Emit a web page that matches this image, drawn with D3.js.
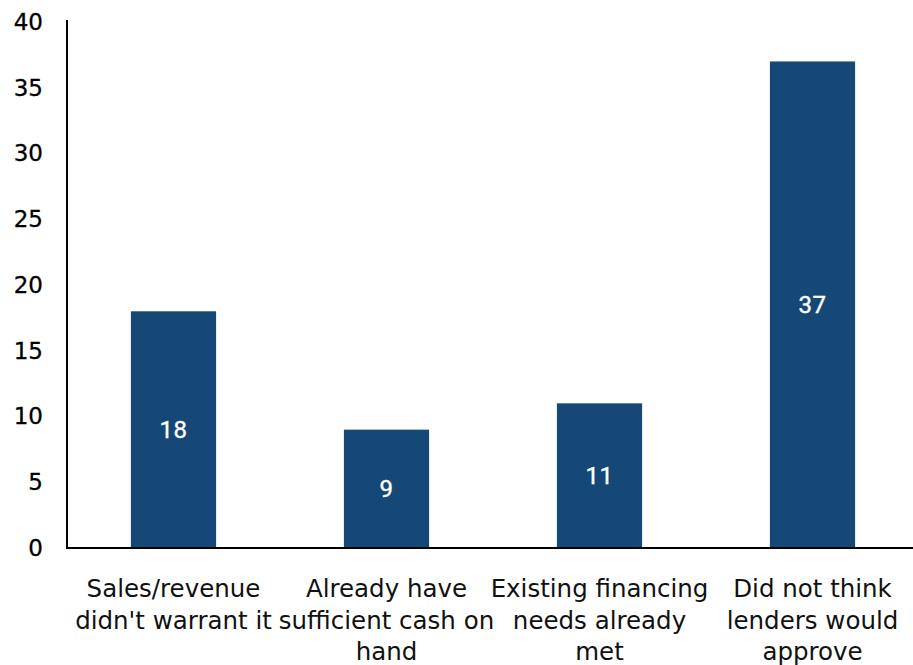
<!DOCTYPE html>
<html>
<head>
<meta charset="utf-8">
<script src="https://cdn.jsdelivr.net/npm/d3@7"></script>
<style>
  html, body { margin: 0; padding: 0; background: #fff; }
  svg { display: block; }
</style>
</head>
<body>
<svg id="chart" width="913" height="665"></svg>
<script>
// Reasons for not applying for financing (share of respondents)
const categories = [
  ["Sales/revenue", "didn't warrant it"],
  ["Already have", "sufficient cash on", "hand"],
  ["Existing financing", "needs already", "met"],
  ["Did not think", "lenders would", "approve"]
];
const values = [18, 9, 11, 37];
const yTicks = [0, 5, 10, 15, 20, 25, 30, 35, 40];

const width = 913, height = 665;
const margin = { top: 22, right: -6, bottom: 117, left: 67 };

const svg = d3.select("#chart");

const x = d3.scaleBand()
  .domain(d3.range(categories.length))
  .range([margin.left, width - margin.right])
  .paddingInner(0.6)
  .paddingOuter(0.3);

const y = d3.scaleLinear()
  .domain([0, 40])
  .range([height - margin.bottom, margin.top]);

// Bars
svg.append("g")
  .selectAll("rect")
  .data(values)
  .join("rect")
  .attr("x", (d, i) => x(i))
  .attr("y", d => y(d))
  .attr("width", x.bandwidth())
  .attr("height", d => y(0) - y(d))
  .attr("fill", "#154876");

// Value labels centred in each bar
svg.append("g")
  .selectAll("text")
  .data(values)
  .join("text")
  .attr("x", (d, i) => x(i) + x.bandwidth() / 2)
  .attr("y", d => (y(d) + y(0)) / 2)
  .attr("dy", "0.35em")
  .attr("text-anchor", "middle")
  .attr("font-family", "Roboto, 'Liberation Sans', sans-serif")
  .attr("font-size", 24)
  .attr("letter-spacing", 0.5)
  .attr("fill", "#fff")
  .attr("stroke", "#fff")
  .attr("stroke-width", 0.4)
  .text(d => d);

// Y axis (no tick marks)
const yAxis = svg.append("g")
  .attr("transform", `translate(${margin.left},0)`)
  .call(d3.axisLeft(y).tickValues(yTicks).tickSize(0).tickPadding(24));
yAxis.select(".domain").attr("stroke", "#000").attr("stroke-width", 2)
  .attr("d", `M0,${y(40) - 2}V${y(0)}`);
yAxis.selectAll("text")
  .attr("font-family", "'DejaVu Sans', sans-serif")
  .attr("font-size", 23)
  .attr("fill", "#000")
  .attr("stroke", "#000")
  .attr("stroke-width", 0.3);

// X axis baseline
svg.append("line")
  .attr("x1", margin.left - 1)
  .attr("x2", width)
  .attr("y1", y(0))
  .attr("y2", y(0))
  .attr("stroke", "#000")
  .attr("stroke-width", 2);

// Category labels (multi-line)
const catG = svg.append("g")
  .selectAll("text")
  .data(categories)
  .join("text")
  .attr("x", (d, i) => x(i) + x.bandwidth() / 2)
  .attr("y", y(0) + 49)
  .attr("text-anchor", "middle")
  .attr("font-family", "'DejaVu Sans', sans-serif")
  .attr("font-size", 24.5)
  .attr("fill", "#111");
catG.selectAll("tspan")
  .data(d => d)
  .join("tspan")
  .attr("x", function () { return d3.select(this.parentNode).attr("x"); })
  .attr("dy", (d, i) => i === 0 ? 0 : 31.5)
  .text(d => d);
</script>
</body>
</html>
